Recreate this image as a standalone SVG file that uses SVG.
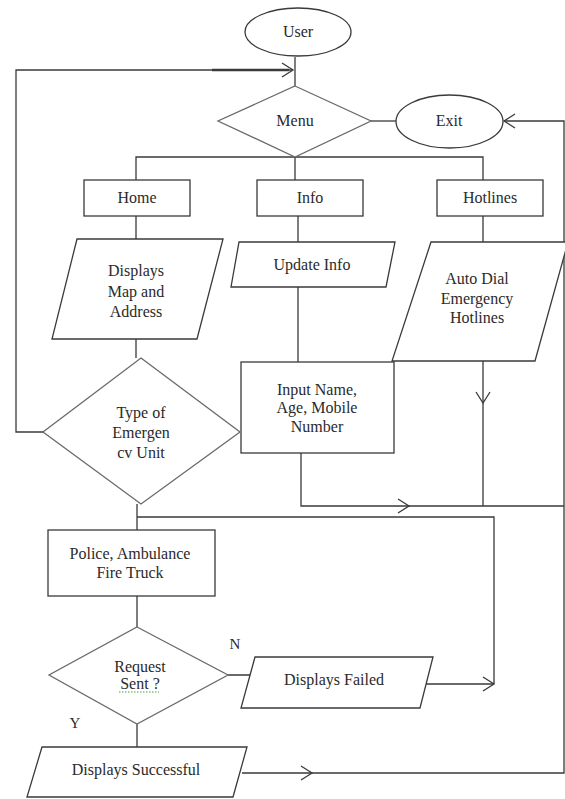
<svg xmlns="http://www.w3.org/2000/svg" width="565" height="799" viewBox="0 0 565 799">
<style>
.s{fill:#fff;stroke:#3a3a3a;stroke-width:1.3}
.d{fill:#fff;stroke:#6a6a6a;stroke-width:1.3}
.c{fill:none;stroke:#3a3a3a;stroke-width:1.3}
.ar{fill:none;stroke:#3a3a3a;stroke-width:1.3}
text{font-family:"Liberation Serif","Times New Roman",serif;font-size:16px;fill:#2a2a2a;text-anchor:middle}
.lbl{font-size:15px}
</style>
<defs>
<path id="chev" d="M-11,-7 L0,0 L-11,7" class="ar"/>
</defs>
<rect width="565" height="799" fill="#fff"/>
<g id="connectors">
<path class="c" d="M295,57 V86"/>
<path class="c" d="M43,432 H16 V70 H293"/>
<path fill="none" stroke="#3a3a3a" stroke-width="2.6" d="M212,70 H289"/>
<path class="c" d="M371,121 H396"/>
<path class="c" d="M136,180 V157 H483 V180 M295,157 V180"/>
<path class="c" d="M136,216 V239 M136,339 V358"/>
<path class="c" d="M298,216 V242 M298,287 V362"/>
<path class="c" d="M483,216 V242 M483,361 V506"/>
<path class="c" d="M301,453 V506 H564"/>
<path class="c" d="M137,504 V530 M137,517 H494 V684 M426,684 H494"/>
<path class="c" d="M137,596 V627 M228,675 H250 M137,724 V747"/>
<path class="c" d="M242,773 H564 V121 H504"/>
<use href="#chev" transform="translate(293,70)"/>
<use href="#chev" transform="translate(504,121) rotate(180)"/>
<use href="#chev" transform="translate(483,403) rotate(90)"/>
<use href="#chev" transform="translate(409,506)"/>
<use href="#chev" transform="translate(494,684)"/>
<use href="#chev" transform="translate(312,773)"/>
<text class="lbl" x="235" y="649">N</text>
<text class="lbl" x="75" y="728">Y</text>
</g>
<g id="user"><ellipse class="s" cx="298" cy="32" rx="53" ry="24"/><text x="298" y="37">User</text></g>
<g id="menu"><polygon class="d" points="295,86 371,121 295,157 218,121"/><text x="295" y="126">Menu</text></g>
<g id="exit"><ellipse class="s" cx="449.5" cy="121.5" rx="53.5" ry="26.5"/><text x="449" y="126">Exit</text></g>
<g id="home"><rect class="s" x="84" y="180" width="106" height="36"/><text x="137" y="203">Home</text></g>
<g id="info"><rect class="s" x="257" y="180" width="106" height="36"/><text x="310" y="203">Info</text></g>
<g id="hotlines"><rect class="s" x="437" y="180" width="106" height="36"/><text x="490" y="203">Hotlines</text></g>
<g id="displays-map"><polygon class="s" points="77,239 223,239 197,339 52,339"/>
<text x="136" y="276">Displays</text><text x="136" y="297">Map and</text><text x="136" y="317">Address</text></g>
<g id="update-info"><polygon class="s" points="239,242 395,242 386,287 231,287"/><text x="312" y="270">Update Info</text></g>
<g id="auto-dial"><polygon class="s" points="431,242 568,242 535,361 392,361"/>
<text x="477" y="284">Auto Dial</text><text x="477" y="304">Emergency</text><text x="477" y="323">Hotlines</text></g>
<g id="input"><rect class="s" x="241" y="362" width="153" height="91"/>
<text x="317" y="395">Input Name,</text><text x="317" y="413">Age, Mobile</text><text x="317" y="432">Number</text></g>
<g id="type-unit"><polygon class="d" points="141,358 240,432 141,504 43,432"/>
<text x="141" y="418">Type of</text><text x="141" y="438">Emergen</text><text x="141" y="458">cv Unit</text></g>
<g id="police"><rect class="s" x="48" y="530" width="167" height="66"/>
<text x="130" y="559">Police, Ambulance</text><text x="130" y="578">Fire Truck</text></g>
<g id="request"><polygon class="d" points="137,627 228,675 137,724 49,675"/>
<text x="140" y="672">Request</text><text x="140" y="689">Sent ?</text>
<path d="M119,692 H159" fill="none" stroke="#5a9a3a" stroke-width="1" stroke-dasharray="1.5,1.5"/></g>
<g id="failed"><polygon class="s" points="255,657 433,657 420,708 241,708"/><text x="334" y="685">Displays Failed</text></g>
<g id="successful"><polygon class="s" points="42,747 247,747 233,797 27,797"/><text x="136" y="775">Displays Successful</text></g>
</svg>
